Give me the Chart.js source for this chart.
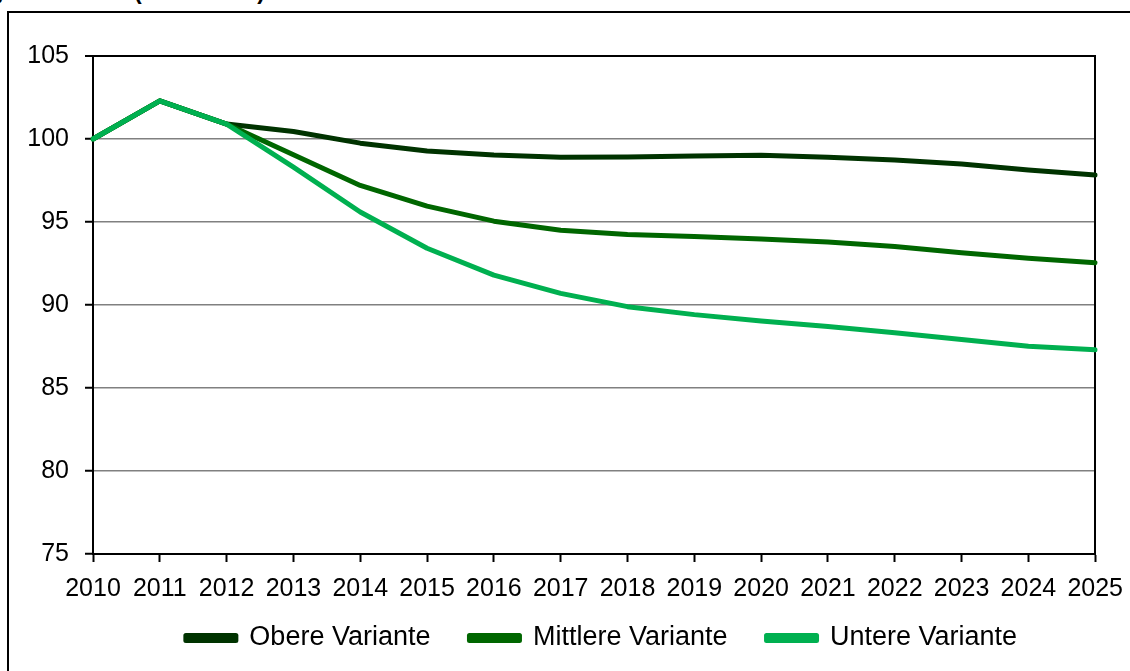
<!DOCTYPE html>
<html>
<head>
<meta charset="utf-8">
<script src="https://cdn.jsdelivr.net/npm/chart.js@4"></script>
<style>
  html, body { margin: 0; padding: 0; background: #fff; overflow: hidden; }
  #wrap { position: relative; width: 1130px; height: 671px; overflow: hidden; }
  #frame { position: absolute; left: 7px; top: 11px; width: 1200px; height: 800px;
           border-left: 2px solid #000; border-top: 2px solid #000; }
  #title { position: absolute; right: 865px; top: -22px; line-height: 23px; white-space: nowrap;
           font: bold 23px "Liberation Sans", Arial, sans-serif; color: #000; }
  #box { position: absolute; left: 0; top: 0; width: 1135px; height: 671px; }
</style>
</head>
<body>
<div id="wrap">
  <div id="title">Bevölkerungszahl Index (2010 = 100)</div>
  <div id="frame"></div>
  <div id="box"><canvas id="popChart"></canvas></div>
</div>
<script>
const years = ['2010', '2011', '2012', '2013', '2014', '2015', '2016', '2017',
               '2018', '2019', '2020', '2021', '2022', '2023', '2024', '2025'];
const obere = [100, 102.3, 100.9, 100.45, 99.75, 99.28, 99.04, 98.9, 98.92, 98.97, 99.02, 98.9, 98.74, 98.5, 98.13, 97.83];
const mittlere = [100, 102.3, 100.9, 99.05, 97.2, 95.96, 95.05, 94.5, 94.25, 94.12, 93.97, 93.8, 93.52, 93.15, 92.82, 92.55];
const untere = [100, 102.3, 100.9, 98.3, 95.6, 93.42, 91.8, 90.7, 89.9, 89.42, 89.04, 88.7, 88.33, 87.92, 87.52, 87.3];
const yTicks = [75, 80, 85, 90, 95, 100, 105];

const tickFont = { family: '"Liberation Sans", Arial, sans-serif', size: 25 };
const legendFont = { family: '"Liberation Sans", Arial, sans-serif', size: 27 };

function line(label, values, color, order) {
    return {
        label: label,
        data: values,
        borderColor: color,
        backgroundColor: color,
        borderWidth: 5,
        pointRadius: 0,
        tension: 0,
        borderJoinStyle: 'round',
        borderCapStyle: 'round',
        order: order
    };
}

const data = {
    labels: years,
    datasets: [
        line('Obere Variante', obere, '#003300', 2),
        line('Mittlere Variante', mittlere, '#006600', 1),
        line('Untere Variante', untere, '#00B050', 0)
    ]
};

// move the legend row to where the original has it
const legendShift = {
    id: 'legendShift',
    afterLayout(chart) {
        const lg = chart.legend;
        const pad = lg.options.labels.padding;
        const dy = (638 - pad - legendFont.size / 2) - lg.top;
        lg.top += dy; lg.bottom += dy;
        const dx = 24;
        lg.left += dx; lg.right += dx;
        if (lg.adjustHitBoxes) lg.adjustHitBoxes();
    }
};

const config = {
    type: 'line',
    data: data,
    plugins: [legendShift],
    options: {
        responsive: true,
        maintainAspectRatio: false,
        animation: false,
        layout: { padding: { left: 20, right: 0, top: 56, bottom: -5 } },
        plugins: {
            tooltip: { enabled: false },
            legend: {
                position: 'bottom',
                labels: {
                    boxWidth: 50,
                    boxHeight: 5,
                    padding: 39,
                    color: '#000',
                    font: legendFont,
                    sort: (a, b) => a.datasetIndex - b.datasetIndex
                }
            }
        },
        scales: {
            x: {
                offset: false,
                grid: { drawOnChartArea: false, tickLength: 8, tickColor: '#000', tickWidth: 2 },
                border: { color: '#000', width: 2 },
                ticks: { color: '#000', font: tickFont, padding: 12, maxRotation: 0, autoSkip: false },
                afterFit: s => { s.height = 46; }
            },
            y: {
                min: 75,
                max: 105,
                afterBuildTicks: s => { s.ticks = yTicks.map(v => ({ value: v })); },
                grid: {
                    color: c => (c.tick && c.tick.value === 105) ? '#000' : '#808080',
                    lineWidth: c => (c.tick && c.tick.value === 105) ? 2 : 1.5,
                    tickLength: 8,
                    tickColor: '#000',
                    tickWidth: 2
                },
                border: { color: '#000', width: 2 },
                ticks: { color: '#000', font: tickFont, padding: 16 },
                afterFit: s => { s.width = 73; }
            },
            y2: {
                position: 'right',
                min: 75,
                max: 105,
                grid: { drawOnChartArea: false, drawTicks: false },
                border: { color: '#000', width: 2 },
                ticks: { display: false },
                afterFit: s => { s.width = 33; }
            }
        }
    }
};

window.onload = function() {
    const ctx = document.getElementById('popChart').getContext('2d');
    new Chart(ctx, config);
};
</script>
</body>
</html>
